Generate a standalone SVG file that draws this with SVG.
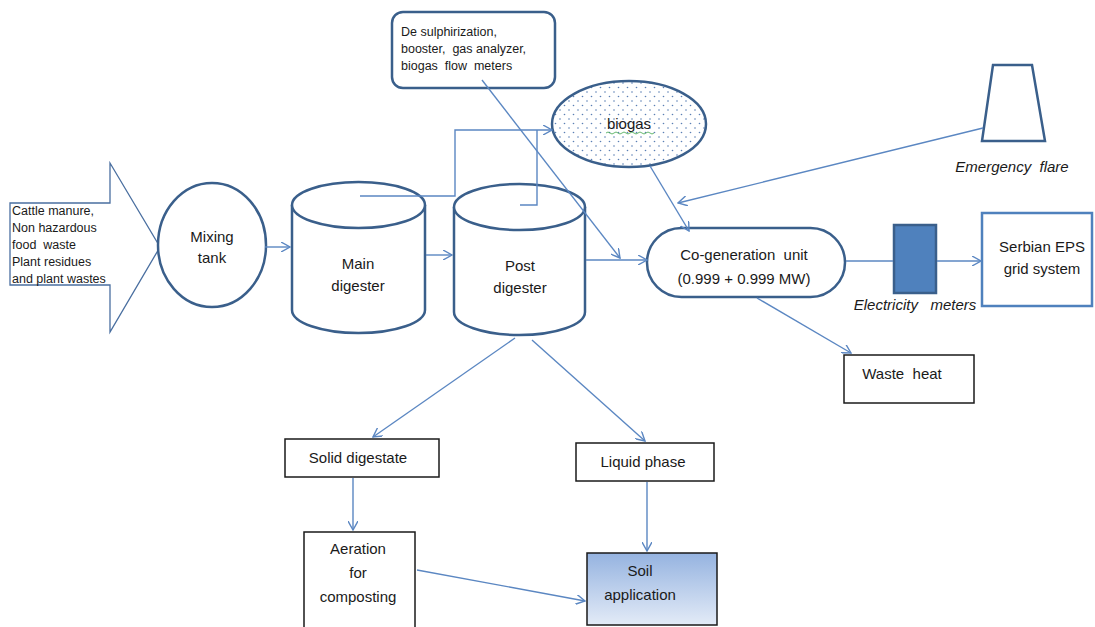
<svg xmlns="http://www.w3.org/2000/svg" width="1095" height="627" viewBox="0 0 1095 627">
<style>
.node{fill:#fff;stroke:#3a5f8b;stroke-width:2.5}
.box{fill:#fff;stroke:#1a1a1a;stroke-width:1.5}
.con{fill:none;stroke:#5b87c2;stroke-width:1.4}
.t{font-family:"Liberation Sans",Arial,sans-serif;font-size:15px;fill:#1a1a1a;text-anchor:middle;white-space:pre}
.s{font-family:"Liberation Sans",Arial,sans-serif;font-size:12.5px;fill:#1a1a1a;white-space:pre}
.i{font-style:italic}
</style>
<defs>
<marker id="ah" viewBox="0 0 10 10" refX="9" refY="5" markerWidth="10" markerHeight="10" markerUnits="userSpaceOnUse" orient="auto">
<path d="M0,0 L9,5 L0,10" fill="none" stroke="#5b87c2" stroke-width="1.4"/>
</marker>
<pattern id="dots" width="9" height="9" patternUnits="userSpaceOnUse">
<rect width="9" height="9" fill="#fff"/>
<circle cx="2" cy="2" r="0.8" fill="#5b7fb5"/>
<circle cx="6.5" cy="6.5" r="0.8" fill="#5b7fb5"/>
</pattern>
<linearGradient id="soil" x1="0" y1="0" x2="0" y2="1">
<stop offset="0" stop-color="#95b3e0"/>
<stop offset="1" stop-color="#e3ebf7"/>
</linearGradient>
</defs>

<g id="input">
<path d="M10,203 L110,203 L110,163 L160,247 L110,332 L110,285 L10,285 Z" fill="#fff" stroke="#4a6fa0" stroke-width="1.3"/>
<text class="s" x="12" y="215">Cattle manure,</text>
<text class="s" x="12" y="232">Non hazardous</text>
<text class="s" x="12" y="249">food  waste</text>
<text class="s" x="12" y="266">Plant residues</text>
<text class="s" x="12" y="283">and plant wastes</text>
</g>

<g id="mixing">
<ellipse class="node" cx="212" cy="245" rx="54" ry="62"/>
<text class="t" x="212" y="242">Mixing</text>
<text class="t" x="212" y="263">tank</text>
</g>

<g id="main">
<path class="node" d="M292,205 L292,310 A66.5,23 0 0 0 425,310 L425,205"/>
<ellipse class="node" cx="358.5" cy="205" rx="66.5" ry="23"/>
<text class="t" x="358" y="269">Main</text>
<text class="t" x="358" y="291">digester</text>
</g>

<g id="post">
<path class="node" d="M454,207 L454,312 A65.5,23 0 0 0 585,312 L585,207"/>
<ellipse class="node" cx="519.5" cy="207" rx="65.5" ry="23"/>
<text class="t" x="520" y="271">Post</text>
<text class="t" x="520" y="293">digester</text>
</g>

<g id="desulph">
<rect class="node" x="392" y="12" width="163" height="76" rx="11"/>
<text class="s" x="401" y="36">De sulphirization,</text>
<text class="s" x="401" y="53">booster,  gas analyzer,</text>
<text class="s" x="401" y="70">biogas  flow  meters</text>
</g>

<g id="biogas">
<ellipse cx="629" cy="124" rx="77" ry="43" fill="url(#dots)" stroke="#3a5f8b" stroke-width="2.5"/>
<text class="t" x="629" y="129">biogas</text>
<path d="M606,133 q2,-2 4,0 t4,0 t4,0 t4,0 t4,0 t4,0 t4,0 t4,0 t4,0 t4,0 t4,0 t4,0" fill="none" stroke="#3fa64a" stroke-width="0.8"/>
</g>

<g id="cogen">
<rect class="node" x="647" y="228" width="198" height="69" rx="34.5"/>
<text class="t" x="744" y="260">Co-generation  unit</text>
<text class="t" x="744" y="284">(0.999 + 0.999 MW)</text>
</g>

<g id="flare">
<polygon points="993,65 1032,65 1045,141 982,141" fill="#fff" stroke="#3a5f8b" stroke-width="2.5"/>
<text class="t i" x="1012" y="172">Emergency  flare</text>
</g>

<g id="meters">
<rect x="894" y="225" width="42" height="68" fill="#4f81bd" stroke="#3a5f8b" stroke-width="2.5"/>
<text class="t i" x="915" y="310">Electricity   meters</text>
</g>

<g id="serbian">
<rect x="982" y="213" width="110" height="93" fill="#fff" stroke="#4f81bd" stroke-width="2.5"/>
<text class="t" x="1042" y="252">Serbian EPS</text>
<text class="t" x="1042" y="274">grid system</text>
</g>

<g id="wasteheat">
<rect class="box" x="844" y="355" width="130" height="48"/>
<text class="t" x="902" y="379">Waste  heat</text>
</g>

<g id="solid">
<rect class="box" x="285" y="439" width="154" height="38"/>
<text class="t" x="358" y="463">Solid digestate</text>
</g>

<g id="liquid">
<rect class="box" x="576" y="443" width="138" height="38"/>
<text class="t" x="643" y="467">Liquid phase</text>
</g>

<g id="aeration">
<rect class="box" x="304" y="532" width="111" height="110"/>
<text class="t" x="358" y="554">Aeration</text>
<text class="t" x="358" y="578">for</text>
<text class="t" x="358" y="602">composting</text>
</g>

<g id="soil">
<rect x="587" y="553" width="130" height="72" fill="url(#soil)" stroke="#1a1a1a" stroke-width="1.5"/>
<text class="t" x="640" y="576">Soil</text>
<text class="t" x="640" y="600">application</text>
</g>

<g id="connectors">
<line class="con" x1="265" y1="247" x2="290" y2="247" marker-end="url(#ah)"/>
<line class="con" x1="426" y1="255" x2="452" y2="255" marker-end="url(#ah)" stroke="#8fb0dc"/>
<polyline class="con" points="360,196 455,196 455,130 552,130" marker-end="url(#ah)"/>
<polyline class="con" points="520,205 537,205 537,130"/>
<line class="con" x1="482" y1="80" x2="620" y2="258" marker-end="url(#ah)"/>
<line class="con" x1="586" y1="260" x2="647" y2="260" marker-end="url(#ah)"/>
<line class="con" x1="650" y1="166" x2="689" y2="231" marker-end="url(#ah)"/>
<line class="con" x1="983" y1="128" x2="678" y2="203" marker-end="url(#ah)"/>
<line class="con" x1="846" y1="261" x2="893" y2="261"/>
<line class="con" x1="937" y1="261" x2="981" y2="261" marker-end="url(#ah)"/>
<line class="con" x1="757" y1="298" x2="851" y2="353" marker-end="url(#ah)"/>
<line class="con" x1="515" y1="338" x2="373" y2="437" marker-end="url(#ah)"/>
<line class="con" x1="532" y1="340" x2="645" y2="441" marker-end="url(#ah)"/>
<line class="con" x1="353" y1="478" x2="353" y2="530" marker-end="url(#ah)"/>
<line class="con" x1="647" y1="482" x2="647" y2="551" marker-end="url(#ah)"/>
<line class="con" x1="417" y1="570" x2="585" y2="601" marker-end="url(#ah)"/>
</g>
</svg>
